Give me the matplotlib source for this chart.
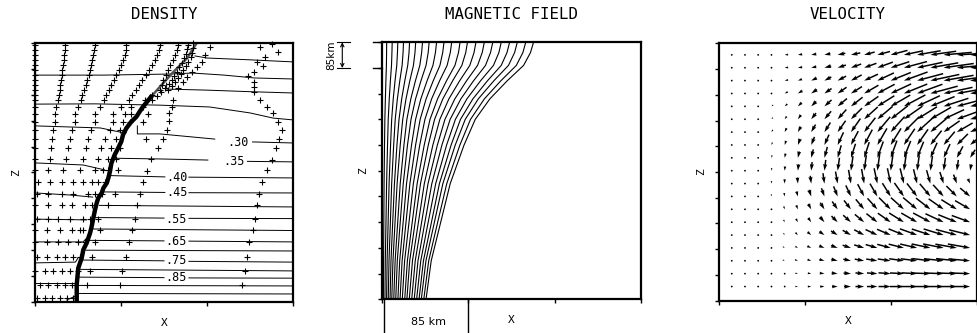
import numpy as np
import matplotlib.pyplot as plt

nan = np.nan

# ---------------- DENSITY ----------------
# flux tube boundary (thick part, then thin part near the top)
tube_x = [0.485, 0.485, 0.503, 0.543, 0.562, 0.601, 0.62, 0.64, 0.659, 0.678, 0.698, 0.717, 0.736,
          0.776, 0.795, 0.834, 0.853, 0.872, 0.888, 0.926, 0.965, 1.003, 1.023, 1.062, 1.12, 1.178,
          1.217, 1.256, 1.30, 1.349]
tube_z = [0.0, 0.67, 1.31, 1.70, 2.02, 2.28, 2.47, 2.66, 2.92, 3.24, 3.56, 3.82, 4.02,
          4.21, 4.40, 4.59, 4.79, 5.05, 5.36, 5.68, 5.93, 6.19, 6.45, 6.71, 6.96, 7.15,
          7.35, 7.54, 7.72, 7.92]
tube_top_x = [1.349, 1.45, 1.6, 1.77, 1.88]
tube_top_z = [7.92, 8.3, 8.85, 9.42, 10.0]

# density contours (nan = gap left for a label)
dens_lines = [
    ([1.86, 2.0, 2.5, 3.0], [9.5, 9.42, 9.35, 9.27]),
    ([0, 0.8, 1.55, 1.83, 2.2, 2.55, 3.0], [8.76, 8.76, 8.8, 8.84, 8.76, 8.65, 8.61]),
    ([1.53, 1.53, 2.0, 2.5, 3.0], [8.45, 8.22, 8.18, 8.12, 8.07]),
    ([0, 0.7, 1.45, 2.03, 2.5, 2.77, 3.0], [7.64, 7.65, 7.6, 7.53, 7.3, 7.1, 7.03]),
    ([1.19, 1.19, 1.45, 2.09, nan, 2.53, 3.0], [6.8, 6.49, 6.49, 6.29, nan, 6.18, 6.14]),
    ([0.93, 1.5, 2.01, nan, 2.47, 3.0], [5.55, 5.52, 5.48, nan, 5.43, 5.41]),
    ([0.88, 1.51, nan, 1.79, 3.0], [4.88, 4.83, nan, 4.82, 4.79]),
    ([0.80, 1.51, nan, 1.79, 3.0], [4.25, 4.23, nan, 4.22, 4.21]),
    ([0.75, 3.0], [3.73, 3.67]),
    ([0.70, 1.50, nan, 1.79, 3.0], [3.26, 3.24, nan, 3.23, 3.22]),
    ([0.66, 3.0], [2.82, 2.76]),
    ([0.62, 1.50, nan, 1.79, 3.0], [2.38, 2.36, nan, 2.35, 2.32]),
    ([0.59, 3.0], [2.0, 1.97]),
    ([0.55, 1.50, nan, 1.79, 3.0], [1.62, 1.59, nan, 1.57, 1.54]),
    ([0.53, 3.0], [1.26, 1.2]),
    ([0.51, 1.50, nan, 1.79, 3.0], [0.96, 0.94, nan, 0.93, 0.92]),
    ([0.50, 3.0], [0.64, 0.62]),
    ([0.49, 3.0], [0.33, 0.31]),
    # inside the tube
    ([0, 0.76, 0.99, 1.06], [6.80, 6.72, 6.56, 6.53]),
    ([0, 0.56, 0.81], [5.37, 5.29, 5.10]),
    ([0, 0.41, 0.67], [4.21, 4.13, 4.05]),
    ([0, 0.6], [3.2, 3.17]),
    ([0, 0.56, 0.59], [2.32, 2.32, 2.43]),
    ([0, 0.47, 0.5], [1.51, 1.54, 1.70]),
    ([0, 0.49, 0.49], [0.73, 0.73, 0.93]),
    ([0.37, 0.47, 0.49], [0.08, 0.23, 0.35]),
]
dens_label = ['.30', '.35', '.40', '.45', '.55', '.65', '.75', '.85']
dens_label_x = [2.36, 2.31, 1.65, 1.65, 1.64, 1.64, 1.64, 1.64]
dens_label_z = [6.16, 5.41, 4.79, 4.21, 3.18, 2.34, 1.59, 0.93]

# tracer "+" markers: upper deformed columns
z_up = [9.92, 9.73, 9.54, 9.34, 9.15, 8.96, 8.76, 8.57, 8.38, 8.19, 7.99, 7.80]
col_a = [0.0] * 12
col_b = [0.345, 0.345, 0.337, 0.334, 0.326, 0.317, 0.31, 0.30, 0.294, 0.287, 0.28, 0.27]
col_c = [0.694, 0.686, 0.674, 0.666, 0.655, 0.636, 0.628, 0.608, 0.59, 0.57, 0.55, 0.53]
col_d = [1.058, 1.055, 1.043, 1.023, 1.004, 0.977, 0.946, 0.919, 0.887, 0.86, 0.829, 0.802]
col_e = [1.45, 1.442, 1.419, 1.392, 1.36, 1.326, 1.287, 1.248, 1.21, 1.17, 1.131, 1.093]
col_f = [1.663, 1.651, 1.628, 1.605, 1.57, 1.547, 1.523, 1.488, 1.477, 1.453, 1.36, 1.28]
col_g_x = [1.779, 1.767, 1.756, 1.733, 1.709, 1.674, 1.651, 1.616, 1.593, 1.558, 1.51, 1.465, 1.419, 1.36]
col_g_z = [9.92, 9.77, 9.58, 9.42, 9.23, 9.07, 8.88, 8.73, 8.57, 8.42, 8.26, 8.11, 7.95, 7.80]
col_h_x = [1.837, 1.837, 1.826, 1.814, 1.779, 1.756, 1.721, 1.698, 1.663, 1.628, 1.593, 1.547]
col_h_z = [10.0, 9.81, 9.61, 9.46, 9.27, 9.11, 8.96, 8.80, 8.65, 8.49, 8.34, 8.19]
col_i_x = [2.035, 1.977, 1.942, 1.884, 1.826, 1.767, 1.721, 1.663, 1.605, 1.593, 1.558, 1.558, 1.535,
           1.488, 1.43, 1.349, 1.302, 1.256, 1.221, 1.186, 1.163, 1.128, 1.093, 1.058, 1.012, 0.988]
col_i_z = [9.85, 9.54, 9.27, 9.07, 8.88, 8.69, 8.49, 8.26, 7.80, 7.53, 7.30, 6.99, 6.64,
           6.29, 5.95, 5.52, 5.06, 4.63, 4.17, 3.75, 3.20, 2.78, 2.32, 1.74, 1.20, 0.66]
col_r_x = [2.756, 2.616, 2.826, 2.674, 2.581, 2.651, 2.547, 2.477, 2.547, 2.547, 2.547, 2.616, 2.698,
           2.767, 2.826, 2.872, 2.837, 2.802, 2.756, 2.698, 2.64, 2.605, 2.581, 2.558, 2.535,
           2.488, 2.465, 2.442, 2.407]
col_r_z = [9.95, 9.85, 9.65, 9.46, 9.27, 9.11, 8.88, 8.73, 8.49, 8.30, 8.11, 7.80, 7.53,
           7.30, 6.95, 6.64, 6.29, 5.95, 5.48, 5.10, 4.63, 4.17, 3.75, 3.20, 2.78,
           2.32, 1.74, 1.20, 0.66]

# tracer "+" markers: lower rows (left of and along the tube)
row_z = [7.53, 7.26, 6.95, 6.64, 6.29, 5.95, 5.52, 5.10, 4.63, 4.17, 3.75, 3.20, 2.78, 2.32,
         1.74, 1.20, 0.66, 0.15]
row_x = [
    [0, 0.244, 0.50, 0.756, 1.0, 1.116, 1.256],
    [0, 0.233, 0.465, 0.698, 0.907, 1.047, 1.116, 1.314],
    [0, 0.233, 0.465, 0.698, 0.907, 1.023, 1.105, 1.256],
    [0, 0.209, 0.43, 0.651, 0.872, 0.988],
    [0, 0.198, 0.407, 0.616, 0.814, 0.942, 1.29],
    [0, 0.186, 0.384, 0.593, 0.767, 0.884, 0.988],
    [0, 0.174, 0.36, 0.558, 0.733, 0.849, 0.942],
    [0, 0.151, 0.326, 0.523, 0.698, 0.791, 0.849, 0.965],
    [0.03, 0.174, 0.314, 0.442, 0.56, 0.663, 0.733, 0.814],
    [0.02, 0.151, 0.314, 0.442, 0.616, 0.698, 0.779, 0.93],
    [0.0, 0.151, 0.314, 0.43, 0.581, 0.663, 0.849],
    [0.02, 0.151, 0.267, 0.407, 0.558, 0.64, 0.733],
    [0.0, 0.14, 0.29, 0.43, 0.523, 0.558, 0.756],
    [0.0, 0.14, 0.267, 0.384, 0.50, 0.581, 0.698],
    [0.02, 0.14, 0.256, 0.349, 0.442, 0.523, 0.663],
    [0.0, 0.116, 0.209, 0.314, 0.407, 0.50, 0.64],
    [0.058, 0.151, 0.256, 0.349, 0.43, 0.605],
    [0.02, 0.116, 0.198, 0.29, 0.372, 0.442],
]

# ---------------- MAGNETIC FIELD ----------------
# x position of each of the 21 field lines at given heights
bf_z = [0, 1.5, 3, 4.5, 6, 7, 7.8, 8.5, 9.1, 9.6, 10]
bf_x = [
    [.016, .034, .053, .072, .093, .113, .136, .159, .184, .209, .235, .263, .288, .316, .344, .373, .401, .429, .455, .484, .51],
    [.018, .038, .059, .081, .104, .127, .152, .177, .205, .233, .262, .294, .321, .353, .385, .417, .449, .480, .509, .541, .57],
    [.021, .046, .071, .097, .124, .151, .182, .211, .245, .278, .313, .350, .384, .422, .459, .497, .535, .573, .607, .645, .68],
    [.024, .053, .082, .112, .144, .175, .211, .246, .284, .323, .363, .407, .446, .490, .533, .577, .622, .665, .705, .750, .79],
    [.029, .064, .099, .135, .173, .211, .254, .295, .342, .389, .437, .489, .536, .589, .641, .694, .748, .800, .848, .902, .95],
    [.033, .072, .112, .153, .197, .240, .288, .336, .389, .442, .497, .556, .609, .670, .729, .789, .850, .909, .964, 1.025, 1.08],
    [.039, .084, .130, .178, .228, .278, .334, .389, .450, .511, .575, .644, .705, .775, .844, .914, .984, 1.053, 1.116, 1.186, 1.25],
    [.045, .097, .151, .206, .264, .322, .387, .451, .522, .593, .667, .747, .818, .899, .979, 1.060, 1.141, 1.221, 1.295, 1.376, 1.45],
    [.051, .110, .171, .233, .298, .364, .438, .510, .590, .671, .754, .845, .925, 1.017, 1.107, 1.199, 1.291, 1.381, 1.465, 1.556, 1.64],
    [.053, .115, .179, .244, .313, .382, .459, .535, .619, .703, .791, .886, .970, 1.066, 1.161, 1.257, 1.354, 1.448, 1.536, 1.632, 1.72],
    [.054, .118, .183, .249, .319, .390, .469, .546, .632, .718, .807, .904, .990, 1.088, 1.185, 1.283, 1.381, 1.478, 1.567, 1.665, 1.755],
]

# ---------------- VELOCITY ----------------
vel_x = [0.145, 0.299, 0.453, 0.608, 0.762, 0.916, 1.071, 1.225, 1.379, 1.534, 1.688, 1.842,
         1.997, 2.151, 2.305, 2.460, 2.614, 2.768, 2.923]
vel_z = [9.55, 9.05, 8.55, 8.05, 7.55, 7.05, 6.55, 6.05, 5.55, 5.05, 4.55, 4.05, 3.55, 3.05,
         2.55, 2.05, 1.55, 1.05, 0.55]
# arrow length (1/3 pixel) and tilt of the arrow line (deg), rows from top
vel_len = [
    [0, 0, 0, 0, 8, 10, 12, 14, 18, 22, 25, 30, 40, 45, 55, 60, 65, 65, 65],
    [0, 0, 0, 0, 8, 10, 12, 16, 20, 25, 30, 38, 45, 55, 60, 65, 70, 70, 70],
    [0, 0, 0, 0, 8, 10, 14, 18, 22, 28, 35, 42, 50, 58, 62, 68, 70, 70, 70],
    [0, 0, 0, 4, 8, 12, 16, 20, 25, 30, 38, 45, 52, 58, 62, 65, 68, 68, 65],
    [0, 0, 0, 5, 8, 12, 16, 22, 28, 34, 40, 46, 52, 56, 58, 60, 60, 60, 58],
    [0, 0, 0, 5, 8, 12, 18, 24, 30, 36, 42, 46, 50, 52, 54, 55, 52, 50, 48],
    [0, 0, 0, 6, 10, 14, 20, 26, 32, 38, 42, 46, 48, 50, 50, 48, 45, 42, 40],
    [0, 0, 0, 6, 10, 15, 20, 26, 32, 36, 40, 44, 45, 45, 44, 42, 40, 36, 30],
    [0, 0, 0, 6, 10, 15, 20, 26, 30, 34, 38, 40, 42, 42, 40, 38, 35, 30, 22],
    [0, 0, 0, 6, 10, 15, 20, 25, 30, 34, 36, 38, 38, 38, 36, 34, 30, 25, 15],
    [0, 0, 0, 6, 10, 14, 18, 24, 28, 32, 34, 36, 36, 36, 34, 32, 28, 22, 12],
    [0, 0, 0, 5, 8, 12, 16, 20, 25, 28, 32, 34, 36, 38, 38, 38, 36, 34, 30],
    [0, 0, 0, 4, 7, 10, 14, 18, 22, 26, 30, 34, 38, 40, 42, 42, 42, 42, 40],
    [0, 0, 0, 4, 6, 9, 12, 16, 20, 24, 28, 32, 36, 40, 42, 45, 46, 46, 45],
    [0, 0, 0, 3, 5, 8, 11, 14, 18, 22, 26, 30, 34, 38, 42, 45, 48, 50, 50],
    [0, 0, 2, 3, 5, 7, 10, 13, 16, 20, 24, 28, 32, 36, 40, 44, 48, 50, 52],
    [0, 0, 0, 3, 5, 7, 9, 12, 15, 18, 22, 26, 30, 34, 38, 42, 45, 48, 50],
    [0, 0, 0, 3, 4, 6, 8, 11, 14, 17, 20, 24, 28, 32, 36, 40, 44, 46, 48],
    [0, 0, 0, 3, 4, 6, 8, 10, 13, 16, 20, 24, 28, 32, 36, 40, 42, 44, 45],
]
vel_ang = [
    [0, 0, 0, 0, 5, 8, 10, 12, 12, 12, 15, 15, 15, 12, 10, 8, 5, 3, 3],
    [0, 0, 0, 0, 5, 8, 12, 15, 18, 20, 20, 20, 18, 15, 12, 10, 8, 5, 3],
    [0, 0, 0, 0, 12, 20, 25, 28, 28, 28, 25, 25, 22, 20, 15, 12, 10, 8, 5],
    [0, 0, 0, 25, 28, 32, 35, 35, 35, 32, 30, 28, 25, 22, 20, 15, 12, 10, 8],
    [0, 0, 0, 40, 42, 45, 45, 42, 40, 38, 35, 32, 30, 28, 25, 22, 18, 15, 12],
    [0, 0, 0, 50, 55, 55, 52, 50, 48, 45, 42, 40, 38, 35, 32, 30, 25, 20, 15],
    [0, 0, 0, 60, 65, 62, 60, 58, 55, 55, 52, 50, 48, 45, 42, 40, 35, 30, 25],
    [0, 0, 0, 70, 72, 70, 68, 66, 65, 62, 62, 60, 58, 56, 55, 52, 50, 45, 40],
    [0, 0, 0, 78, 80, 78, 76, 75, 74, 72, 72, 70, 70, 68, 68, 66, 65, 62, 58],
    [0, 0, 0, 85, 86, 85, 84, 83, 82, 82, 82, 82, 82, 82, 82, 82, 82, 82, 80],
    [0, 0, 0, 90, 92, 95, 97, 98, 100, 100, 100, 102, 102, 104, 104, 106, 108, 110, 115],
    [0, 0, 0, 95, 100, 105, 108, 110, 112, 115, 118, 120, 122, 125, 128, 130, 132, 135, 140],
    [0, 0, 0, 100, 108, 112, 118, 122, 125, 128, 130, 132, 135, 138, 140, 142, 145, 148, 150],
    [0, 0, 0, 110, 115, 120, 125, 130, 135, 138, 140, 142, 145, 148, 150, 152, 155, 158, 160],
    [0, 0, 0, 120, 125, 135, 140, 145, 148, 150, 152, 155, 157, 158, 160, 162, 163, 165, 166],
    [0, 0, 130, 135, 145, 150, 155, 158, 160, 162, 163, 164, 165, 166, 167, 168, 169, 170, 170],
    [0, 0, 0, 150, 155, 160, 163, 165, 167, 168, 170, 171, 172, 172, 173, 173, 174, 174, 175],
    [0, 0, 0, 165, 168, 170, 172, 173, 174, 175, 175, 176, 176, 177, 177, 178, 178, 178, 178],
    [0, 0, 0, 178, 178, 179, 180, 180, 180, 180, 180, 180, 180, 180, 180, 180, 180, 180, 180],
]

MONO = 'DejaVu Sans Mono'

fig = plt.figure(figsize=(9.78, 3.33), dpi=100)
ax1 = fig.add_axes([0.0358, 0.0931, 0.2638, 0.7778])
ax2 = fig.add_axes([0.3906, 0.1012, 0.2648, 0.7718])
ax3 = fig.add_axes([0.7355, 0.0970, 0.2632, 0.7730])

for ax, title in [(ax1, 'DENSITY'), (ax2, 'MAGNETIC FIELD'), (ax3, 'VELOCITY')]:
    ax.set_xlim(0, 3)
    ax.set_ylim(0, 10)
    ax.set_xticks([0, 1, 2, 3])
    ax.set_yticks(range(11))
    ax.tick_params(direction='out', length=3, width=1, labelbottom=False, labelleft=False)
    for s in ax.spines.values():
        s.set_linewidth(1.6)
    ax.text(0.5, 1.11, title, transform=ax.transAxes, ha='center', va='center',
            fontsize=11.3, family=MONO)
    ax.text(0.5, -0.08, 'X', transform=ax.transAxes, ha='center', va='center',
            fontsize=8, family=MONO)
    ax.text(-0.072, 0.5, 'Z', transform=ax.transAxes, ha='center', va='center',
            fontsize=8, family=MONO, rotation=90)

# density panel
for xs, zs in dens_lines:
    ax1.plot(xs, zs, color='black', lw=0.7)
for t, x, z in zip(dens_label, dens_label_x, dens_label_z):
    ax1.text(x, z, t, ha='center', va='center', fontsize=8.5, family=MONO)
ax1.plot(tube_top_x, tube_top_z, color='#555555', lw=1.8, solid_capstyle='butt')
ax1.plot(tube_x, tube_z, color='black', lw=3.2, solid_joinstyle='round')

pk = dict(marker='+', ls='none', color='black', ms=4.5, mew=0.8, clip_on=False)
for col in [col_a, col_b, col_c, col_d, col_e, col_f]:
    ax1.plot(col, z_up, **pk)
ax1.plot(col_g_x, col_g_z, **pk)
ax1.plot(col_h_x, col_h_z, **pk)
ax1.plot(col_i_x, col_i_z, **pk)
ax1.plot(col_r_x, col_r_z, **pk)
for z, xs in zip(row_z, row_x):
    ax1.plot(xs, [z] * len(xs), **pk)

# magnetic field panel
bf = np.array(bf_x)
for k in range(bf.shape[1]):
    ax2.plot(bf[:, k], bf_z, color='black', lw=0.8)

# 85 km scale marks
ax2.plot([-0.52, -0.37], [10, 10], color='black', lw=0.8, clip_on=False)
ax2.plot([-0.52, -0.37], [9, 9], color='black', lw=0.8, clip_on=False)
ax2.plot([-0.105, 0], [10, 10], color='black', lw=1, clip_on=False)
ax2.plot([-0.105, 0], [9, 9], color='black', lw=1, clip_on=False)
ax2.annotate('', xy=(-0.46, 10), xytext=(-0.46, 9), annotation_clip=False,
             arrowprops=dict(arrowstyle='<->', lw=0.8, mutation_scale=6, shrinkA=0, shrinkB=0))
ax2.text(-0.59, 9.5, '85km', rotation=90, ha='center', va='center', fontsize=7.5)
ax2.plot([0.02, 0.02], [0, -1.35], color='black', lw=1, clip_on=False)
ax2.plot([1.0, 1.0], [0, -1.35], color='black', lw=1, clip_on=False)
ax2.text(0.54, -0.87, '85 km', ha='center', va='center', fontsize=8)

# velocity panel
L = np.array(vel_len, dtype=float)
A = np.deg2rad(np.array(vel_ang, dtype=float))
U = -L * np.cos(A)
V = -L * np.sin(A)
X, Z = np.meshgrid(vel_x, vel_z)
ax3.quiver(X, Z, U, V, angles='uv', scale_units='dots', scale=2.3, units='dots', width=1.5,
           headwidth=2.8, headlength=4.5, headaxislength=4, minlength=1.3, pivot='tip',
           color='black')

fig.savefig('out.png', dpi=100)
